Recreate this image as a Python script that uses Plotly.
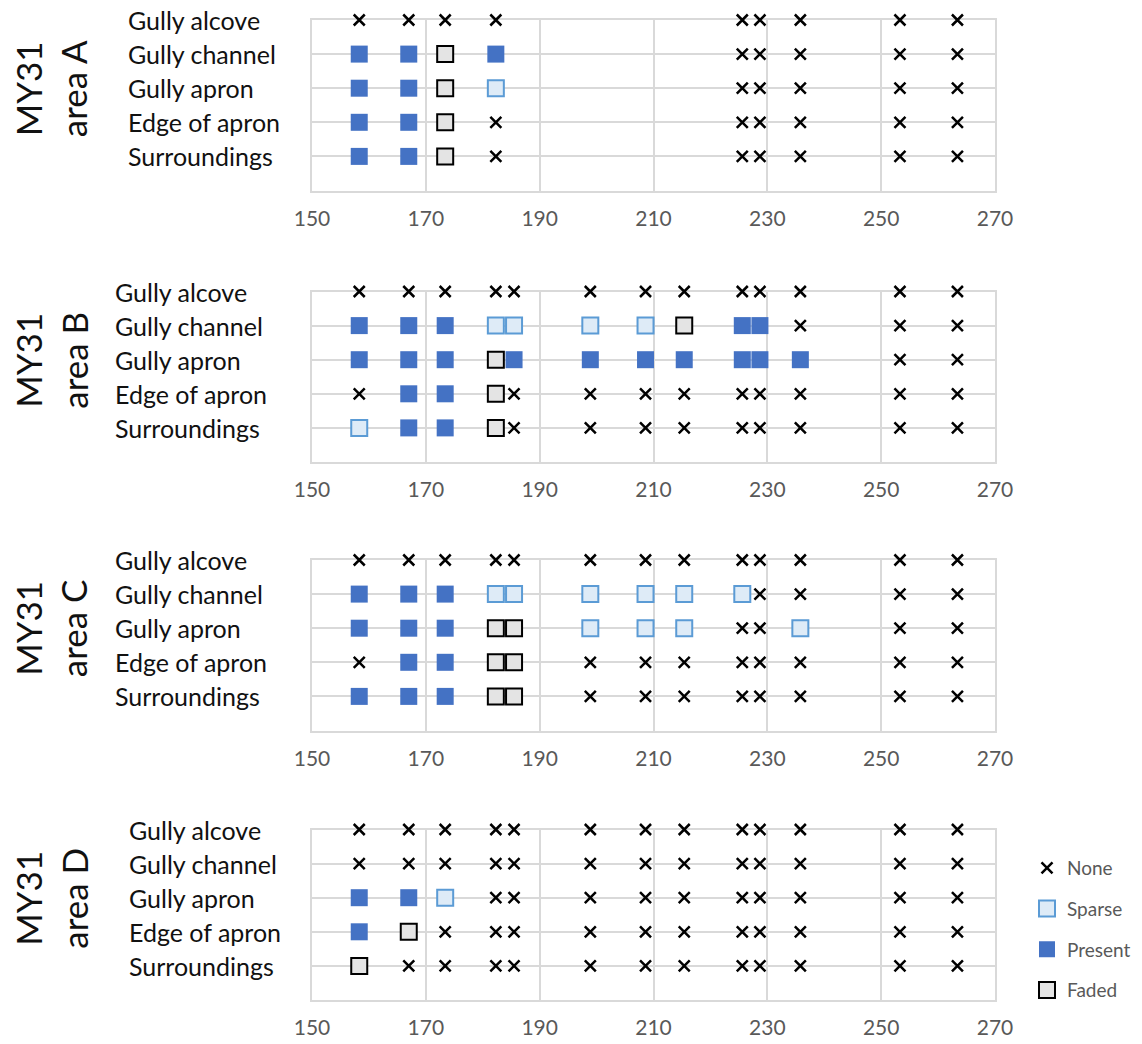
import plotly.graph_objects as go

# ---------------- data ----------------
sol_positions = [158.3, 167.0, 173.4, 182.3, 185.5, 198.9, 208.6, 215.4, 225.6, 228.7, 235.8, 253.3, 263.4]
row_names = ["Gully alcove", "Gully channel", "Gully apron", "Edge of apron", "Surroundings"]
row_levels = [5, 4, 3, 2, 1]
x_ticks = [150, 170, 190, 210, 230, 250, 270]

# codes: N = None, S = Sparse, P = Present, F = Faded, - = no observation
area_A = ["NNNN----NNNNN",
          "PPFP----NNNNN",
          "PPFS----NNNNN",
          "PPFN----NNNNN",
          "PPFN----NNNNN"]
area_B = ["NNNNNNNNNNNNN",
          "PPPSSSSFPPNNN",
          "PPPFPPPPPPPNN",
          "NPPFNNNNNNNNN",
          "SPPFNNNNNNNNN"]
area_C = ["NNNNNNNNNNNNN",
          "PPPSSSSSSNNNN",
          "PPPFFSSSNNSNN",
          "NPPFFNNNNNNNN",
          "PPPFFNNNNNNNN"]
area_D = ["NNNNNNNNNNNNN",
          "NNNNNNNNNNNNN",
          "PPSNNNNNNNNNN",
          "PFNNNNNNNNNNN",
          "FNNNNNNNNNNNN"]
area_names = ["A", "B", "C", "D"]
areas = [area_A, area_B, area_C, area_D]

legend_order = ["N", "S", "P", "F"]
legend_names = {"N": "None", "S": "Sparse", "P": "Present", "F": "Faded"}

# ---------------- styling ----------------
W, H = 1142, 1044
FONT = "Lato"
marker_styles = {
    "N": dict(symbol="x-thin", size=11, color="#000000", line=dict(color="#000000", width=2.5)),
    "S": dict(symbol="square", size=16, color="#DEEBF7", line=dict(color="#5B9BD5", width=2)),
    "P": dict(symbol="square", size=17, color="#4472C4", line=dict(color="#4472C4", width=0)),
    "F": dict(symbol="square", size=16, color="#E4E4E4", line=dict(color="#000000", width=2)),
}
panel_tops = [20, 291.5, 560, 829.5]
row_gap = 34.1
label_left = [126, 113, 113, 127]
x_left, x_right = 312, 995


def px_x(v):
    return v / W


def px_y(v):
    return 1 - v / H


fig = go.Figure()
annotations = []
layout_axes = {}

for k, (area, name) in enumerate(zip(areas, area_names)):
    idx = "" if k == 0 else str(k + 1)
    xa, ya = "x" + idx, "y" + idx
    top = panel_tops[k]
    bottom = top + 5 * row_gap
    for code in legend_order:
        xs, ys = [], []
        for r, row in enumerate(area):
            for c, ch in enumerate(row):
                if ch == code:
                    xs.append(sol_positions[c])
                    ys.append(row_levels[r])
        if not xs:
            continue
        fig.add_trace(go.Scatter(
            x=xs, y=ys, mode="markers", xaxis=xa, yaxis=ya,
            marker=marker_styles[code], name=legend_names[code],
            legendgroup=code, showlegend=(k == 0), cliponaxis=False,
            hoverinfo="x+y",
        ))
    layout_axes["xaxis" + idx] = dict(
        domain=[px_x(x_left), px_x(x_right)], anchor=ya, range=[150, 270],
        tickvals=x_ticks, ticktext=[str(t) for t in x_ticks],
        showgrid=True, gridcolor="#D9D9D9", gridwidth=2,
        showline=True, mirror=True, linecolor="#D9D9D9", linewidth=2,
        zeroline=False, ticks="", ticklabelstandoff=8, layer="below traces",
        tickfont=dict(family=FONT, size=21, color="#595959"),
    )
    layout_axes["yaxis" + idx] = dict(
        domain=[px_y(bottom), px_y(top)], anchor=xa, range=[0, 5],
        tickvals=row_levels, showticklabels=False,
        showgrid=True, gridcolor="#D9D9D9", gridwidth=2,
        showline=True, mirror=True, linecolor="#D9D9D9", linewidth=2,
        zeroline=False, ticks="", layer="below traces",
    )
    for r, rn in enumerate(row_names):
        annotations.append(dict(
            text=rn, xref="paper", yref=ya, x=px_x(label_left[k]), y=row_levels[r],
            xanchor="left", yanchor="middle", showarrow=False,
            font=dict(family=FONT, size=25, color="#111111"),
        ))
    annotations.append(dict(
        text="MY31<br>area " + name, xref="paper", yref=ya, x=px_x(51), y=3,
        xanchor="center", yanchor="middle", showarrow=False, textangle=-90,
        font=dict(family=FONT, size=35, color="#111111"),
    ))

fig.update_layout(
    width=W, height=H,
    margin=dict(l=0, r=0, t=0, b=0, pad=0, autoexpand=False),
    paper_bgcolor="white", plot_bgcolor="white",
    annotations=annotations,
    legend=dict(x=px_x(1027), xanchor="left", y=px_y(849), yanchor="top",
                font=dict(family=FONT, size=19, color="#595959"),
                tracegroupgap=13, itemsizing="trace", bgcolor="rgba(0,0,0,0)"),
    **layout_axes,
)

fig.write_html("out.html", config={"displayModeBar": False},
               post_script="document.body.style.margin='0px';")
